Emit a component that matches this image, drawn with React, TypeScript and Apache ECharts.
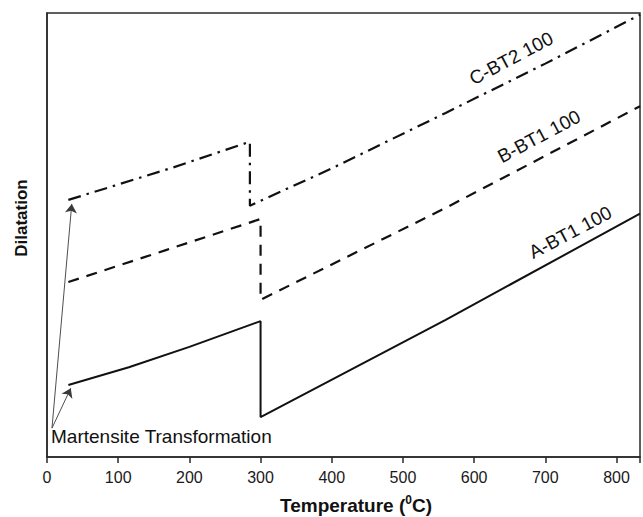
import React, { useEffect, useRef } from "react";
import * as echarts from "echarts";

const xTicks = [0, 100, 200, 300, 400, 500, 600, 700, 800];
const seriesA: [number, number][] = [
  [30, 16.2], [115, 20.2], [200, 24.8], [300, 30.6], [300, 9.0], [560, 30.9], [833, 54.8],
];
const seriesB: [number, number][] = [
  [30, 39.4], [167, 46.6], [300, 53.6], [300, 35.4], [560, 56.1], [833, 79.0],
];
const seriesC: [number, number][] = [
  [30, 57.9], [175, 65.1], [285, 71.0], [285, 56.6], [400, 65.0], [560, 77.5], [700, 88.6], [833, 99.6],
];
const curveLabels = [
  { name: "C-BT2 100", coord: [652, 89.8] },
  { name: "B-BT1 100", coord: [691, 72.2] },
  { name: "A-BT1 100", coord: [735, 50.6] },
];
const arrowFrom = [7, 6.5];
const arrowTips = [[34.8, 57.0], [33.4, 15.5]];
const annotation = "Martensite Transformation";

const FONT = "'Liberation Sans', Arial, sans-serif";

export default function App() {
  const ref = useRef<HTMLDivElement>(null);
  useEffect(() => {
    if (!ref.current) return;
    const chart = echarts.init(ref.current, null, { renderer: "svg" });
    const lineCommon = { type: "line", showSymbol: false, symbol: "none", silent: true };
    chart.setOption({
      animation: false,
      backgroundColor: "#fff",
      textStyle: { fontFamily: FONT },
      grid: {
        left: 47, right: -3, top: 13, bottom: 60,
        show: true, borderColor: "#2a2a2a", borderWidth: 1.5, backgroundColor: "transparent",
      },
      xAxis: {
        type: "value", min: 0, max: 833, interval: 100,
        axisLine: { show: true, lineStyle: { color: "#2a2a2a", width: 1.5 } },
        axisTick: { show: true, inside: false, length: 6, lineStyle: { color: "#2a2a2a", width: 1.5 } },
        axisLabel: {
          margin: 12, fontSize: 16, color: "#1a1a1a", fontFamily: FONT,
          formatter: (v: number) => (xTicks.includes(v) ? String(v) : ""),
        },
        splitLine: { show: false },
      },
      yAxis: {
        type: "value", min: 0, max: 100,
        axisLine: { show: true, lineStyle: { color: "#2a2a2a", width: 1.5 } },
        axisTick: { show: false }, axisLabel: { show: false }, splitLine: { show: false },
      },
      series: [
        {
          ...lineCommon, name: "A-BT1 100", data: seriesA,
          lineStyle: { color: "#111", width: 2, type: "solid" },
          markLine: {
            silent: true, symbol: ["none", "arrow"], symbolSize: 9,
            label: { show: false },
            lineStyle: { color: "#3a3a3a", width: 0.9, type: "solid" },
            emphasis: { disabled: true },
            data: arrowTips.map((t) => [{ coord: arrowFrom }, { coord: t }]),
          },
          markPoint: {
            symbol: "circle", symbolSize: 0, silent: true,
            label: {
              show: true, position: "inside", rotate: 28, fontSize: 19, color: "#111",
              fontFamily: FONT, formatter: (p: any) => p.name,
            },
            data: curveLabels.map((l) => ({ name: l.name, coord: l.coord })),
          },
        },
        {
          ...lineCommon, name: "B-BT1 100", data: seriesB,
          lineStyle: { color: "#111", width: 2.2, type: [11, 8] },
        },
        {
          ...lineCommon, name: "C-BT2 100", data: seriesC,
          lineStyle: { color: "#111", width: 2.2, type: [13, 6, 2.5, 6] },
        },
      ],
      graphic: [
        {
          type: "text", left: 51, top: 427,
          style: { text: annotation, fontSize: 19, fill: "#111", fontFamily: FONT },
        },
        {
          type: "text", x: 21, y: 218, rotation: Math.PI / 2,
          style: {
            text: "Dilatation", fontSize: 17, fontWeight: "bold", fill: "#111", fontFamily: FONT,
            align: "center", verticalAlign: "middle",
          },
        },
        {
          type: "text", x: 356, y: 505,
          style: {
            text: "{t|Temperature (}{s|0}{t|C)}",
            align: "center", verticalAlign: "middle", fill: "#111",
            rich: {
              t: { fontSize: 19, fontWeight: "bold", fontFamily: FONT, lineHeight: 22, fill: "#111" },
              s: { fontSize: 12, fontWeight: "bold", fontFamily: FONT, lineHeight: 12, verticalAlign: "top", fill: "#111" },
            },
          },
        },
      ],
    });
    return () => chart.dispose();
  }, []);
  return (
    <div
      ref={ref}
      style={{ position: "fixed", left: 0, top: 0, width: 643, height: 517, background: "#fff" }}
    />
  );
}
